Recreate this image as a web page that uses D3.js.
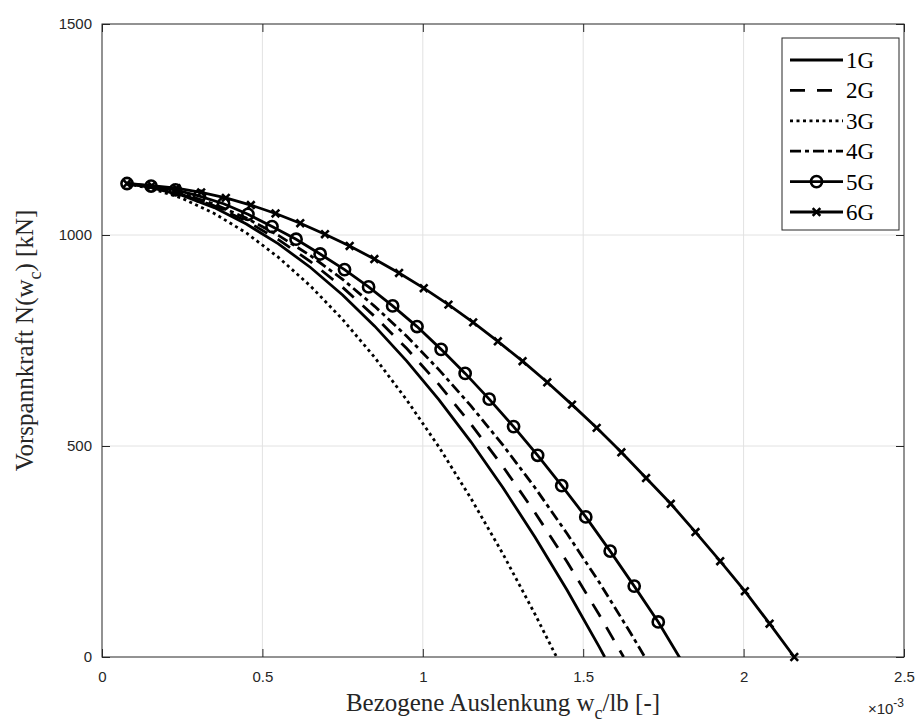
<!DOCTYPE html>
<html>
<head>
<meta charset="utf-8">
<script src="https://cdn.jsdelivr.net/npm/d3@7/dist/d3.min.js"></script>
<style>
  body { margin: 0; background: #fff; }
  svg { display: block; }
</style>
</head>
<body>
<svg id="chart"></svg>
<script>
// [A] Datos --------------------------------------------------------------------
const seriesNames = ["1G", "2G", "3G", "4G", "5G", "6G"];

const w1G = [0.078, 0.15, 0.25, 0.35, 0.45, 0.55, 0.65, 0.75, 0.85, 0.95, 1.05, 1.15, 1.25, 1.35, 1.45, 1.55, 1.567];
const n1G = [1122, 1113, 1094, 1065, 1026, 979, 923, 858, 784, 701, 610, 510, 401, 284, 158, 24, 0];

const w2G = [0.078, 0.15, 0.25, 0.35, 0.45, 0.55, 0.65, 0.75, 0.85, 0.95, 1.05, 1.15, 1.25, 1.35, 1.45, 1.55, 1.626];
const n2G = [1122, 1114, 1096, 1069, 1033, 989, 937, 876, 807, 731, 646, 552, 451, 342, 225, 100, 0];

const w3G = [0.078, 0.15, 0.25, 0.35, 0.45, 0.55, 0.65, 0.75, 0.85, 0.95, 1.05, 1.15, 1.25, 1.35, 1.417];
const n3G = [1121, 1111, 1087, 1051, 1005, 947, 879, 800, 710, 609, 498, 376, 244, 101, 0];

const w4G = [0.078, 0.15, 0.25, 0.35, 0.45, 0.55, 0.65, 0.75, 0.85, 0.95, 1.05, 1.15, 1.25, 1.35, 1.45, 1.55, 1.65, 1.692];
const n4G = [1122, 1115, 1098, 1073, 1040, 999, 951, 895, 831, 760, 681, 595, 502, 401, 292, 177, 54, 0];

const w5G = [0.078, 0.153, 0.229, 0.304, 0.379, 0.455, 0.530, 0.605, 0.680, 0.756, 0.831, 0.906,
             0.982, 1.057, 1.132, 1.207, 1.283, 1.358, 1.433, 1.508, 1.584, 1.659, 1.734, 1.809];
const n5G = [1122, 1116, 1107, 1092, 1074, 1049, 1020, 990, 955, 918, 877, 832,
             783, 729, 672, 611, 546, 478, 406, 332, 251, 168, 83, -12];

const w6G = [0.078, 0.155, 0.232, 0.309, 0.386, 0.464, 0.541, 0.618, 0.695, 0.772, 0.849, 0.926, 1.003, 1.080,
             1.157, 1.234, 1.311, 1.388, 1.465, 1.542, 1.619, 1.696, 1.773, 1.850, 1.927, 2.004, 2.081, 2.158];
const n6G = [1122, 1117, 1111, 1101, 1088, 1071, 1051, 1028, 1002, 974, 943, 910, 874, 835,
             793, 748, 701, 651, 598, 543, 485, 424, 363, 296, 227, 156, 79, 0];

const xTicks = [0, 0.5, 1, 1.5, 2, 2.5];
const yTicks = [0, 500, 1000, 1500];

// [B] Configuracion ------------------------------------------------------------
const width = 918;
const height = 723;
const plot = { left: 102, top: 24, right: 904, bottom: 657 };
const axisColor = "#262626";
const serif = "'Liberation Serif', 'Times New Roman', serif";
const sans = "'Liberation Sans', Arial, Helvetica, sans-serif";

const x = d3.scaleLinear().domain([0, 2.5]).range([plot.left, plot.right]);
const y = d3.scaleLinear().domain([0, 1500]).range([plot.bottom, plot.top]);

// estilos de linea por serie
const styles = {
    "1G": { dash: null, marker: null },
    "2G": { dash: "15,12", marker: null },
    "3G": { dash: "3,3.5", marker: null },
    "4G": { dash: "11,4,4,4", marker: null },
    "5G": { dash: null, marker: "circle" },
    "6G": { dash: null, marker: "cross" }
};

const seriesData = [
    [w1G, n1G], [w2G, n2G], [w3G, n3G], [w4G, n4G], [w5G, n5G], [w6G, n6G]
].map(([ws, ns], i) => ({
    name: seriesNames[i],
    points: ws.map((w, j) => ({ w: w, n: ns[j] }))
}));

const svg = d3.select("#chart")
    .attr("width", width)
    .attr("height", height)
    .style("background", "#fff");

// [C] Rejilla ------------------------------------------------------------------
const grid = svg.append("g").attr("class", "grid");
grid.selectAll(".gx")
    .data(xTicks.slice(1, -1))
    .join("line")
    .attr("x1", d => x(d)).attr("x2", d => x(d))
    .attr("y1", plot.top).attr("y2", plot.bottom)
    .attr("stroke", "#e2e2e2").attr("stroke-width", 1);
grid.selectAll(".gy")
    .data(yTicks.slice(1, -1))
    .join("line")
    .attr("x1", plot.left).attr("x2", plot.right)
    .attr("y1", d => y(d)).attr("y2", d => y(d))
    .attr("stroke", "#e2e2e2").attr("stroke-width", 1);

// [D] Ejes ---------------------------------------------------------------------
function styleAxis(g) {
    g.select(".domain").remove();
    g.selectAll(".tick line").attr("stroke", axisColor).attr("stroke-width", 1);
    g.selectAll(".tick text")
        .attr("fill", axisColor)
        .style("font-family", sans)
        .style("font-size", "15px");
}

svg.append("g")
    .attr("transform", `translate(0,${plot.bottom})`)
    .call(d3.axisBottom(x).tickValues(xTicks).tickFormat(d3.format("~g")).tickSize(-8).tickPadding(14))
    .call(styleAxis);
svg.append("g")
    .attr("transform", `translate(0,${plot.top})`)
    .call(d3.axisTop(x).tickValues(xTicks).tickFormat("").tickSize(-8))
    .call(styleAxis);
svg.append("g")
    .attr("transform", `translate(${plot.left},0)`)
    .call(d3.axisLeft(y).tickValues(yTicks).tickFormat(d3.format("d")).tickSize(-8).tickPadding(10))
    .call(styleAxis);
svg.append("g")
    .attr("transform", `translate(${plot.right},0)`)
    .call(d3.axisRight(y).tickValues(yTicks).tickFormat("").tickSize(-8))
    .call(styleAxis);

// caja del grafico
svg.append("rect")
    .attr("x", plot.left).attr("y", plot.top)
    .attr("width", plot.right - plot.left).attr("height", plot.bottom - plot.top)
    .attr("fill", "none").attr("stroke", axisColor).attr("stroke-width", 1);

// [E] Curvas -------------------------------------------------------------------
svg.append("clipPath").attr("id", "clip")
    .append("rect")
    .attr("x", plot.left).attr("y", plot.top)
    .attr("width", plot.right - plot.left).attr("height", plot.bottom - plot.top);

const line = d3.line().x(d => x(d.w)).y(d => y(d.n));

const curves = svg.append("g").attr("clip-path", "url(#clip)");
curves.selectAll("path")
    .data(seriesData)
    .join("path")
    .attr("d", d => line(d.points))
    .attr("fill", "none")
    .attr("stroke", "#000")
    .attr("stroke-width", 2.8)
    .attr("stroke-dasharray", d => styles[d.name].dash);

// marcadores (solo puntos dentro de los limites)
function drawMarker(g, type, cx, cy) {
    if (type === "circle") {
        g.append("circle")
            .attr("cx", cx).attr("cy", cy).attr("r", 5.6)
            .attr("fill", "none").attr("stroke", "#000").attr("stroke-width", 2.6);
    } else if (type === "cross") {
        const s = 3.8;
        g.append("path")
            .attr("d", `M${cx - s},${cy - s}L${cx + s},${cy + s}M${cx - s},${cy + s}L${cx + s},${cy - s}`)
            .attr("stroke", "#000").attr("stroke-width", 2.6).attr("fill", "none");
    }
}

const markers = svg.append("g");
seriesData.forEach(s => {
    const type = styles[s.name].marker;
    if (!type) return;
    s.points.filter(p => p.n >= 0).forEach(p => drawMarker(markers, type, x(p.w), y(p.n)));
});

// [F] Leyenda ------------------------------------------------------------------
const legend = svg.append("g");
legend.append("rect")
    .attr("x", 782).attr("y", 38).attr("width", 117).attr("height", 192)
    .attr("fill", "#fff").attr("stroke", axisColor).attr("stroke-width", 1);

seriesNames.forEach((name, i) => {
    const ly = 60 + i * 30.4;
    legend.append("line")
        .attr("x1", 790).attr("x2", 843)
        .attr("y1", ly).attr("y2", ly)
        .attr("stroke", "#000").attr("stroke-width", 2.8)
        .attr("stroke-dasharray", styles[name].dash);
    drawMarker(legend, styles[name].marker, 816.5, ly);
    legend.append("text")
        .attr("x", 846).attr("y", ly + 8)
        .style("font-family", serif).style("font-size", "23px")
        .attr("fill", "#000")
        .text(name);
});

// [G] Titulos de ejes ----------------------------------------------------------
const xLabel = svg.append("text")
    .attr("x", (plot.left + plot.right) / 2).attr("y", 711)
    .attr("text-anchor", "middle")
    .style("font-family", serif).style("font-size", "25px")
    .attr("fill", axisColor);
xLabel.append("tspan").text("Bezogene Auslenkung w");
xLabel.append("tspan").attr("dy", 8).style("font-size", "18px").text("c");
xLabel.append("tspan").attr("dy", -8).text("/lb [-]");

const yLabel = svg.append("text")
    .attr("transform", `translate(33,${(plot.top + plot.bottom) / 2}) rotate(-90)`)
    .attr("text-anchor", "middle")
    .style("font-family", serif).style("font-size", "25px")
    .attr("fill", axisColor);
yLabel.append("tspan").text("Vorspannkraft N(w");
yLabel.append("tspan").attr("dy", 8).style("font-size", "18px").text("c");
yLabel.append("tspan").attr("dy", -8).text(") [kN]");

// exponente del eje x
const expo = svg.append("text")
    .attr("x", 904).attr("y", 714)
    .attr("text-anchor", "end")
    .style("font-family", sans).style("font-size", "15px")
    .attr("fill", axisColor);
expo.append("tspan").text("\u00d710");
expo.append("tspan").attr("dy", -7).style("font-size", "12px").text("-3");
</script>
</body>
</html>
